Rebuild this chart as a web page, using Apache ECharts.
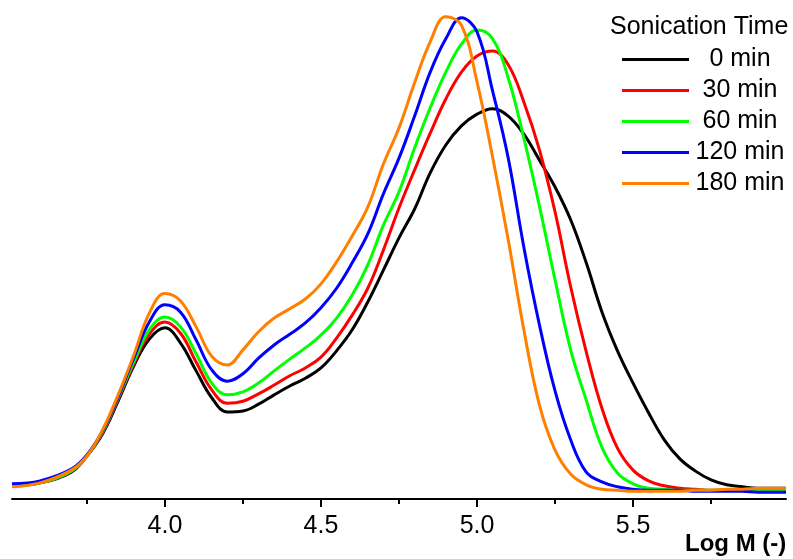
<!DOCTYPE html>
<html>
<head>
<meta charset="utf-8">
<script src="https://cdn.jsdelivr.net/npm/echarts@6/dist/echarts.min.js"></script>
<style>
  html, body { margin: 0; padding: 0; background: #fff; }
  #chart { width: 793px; height: 559px; }
</style>
</head>
<body>
<div id="chart"></div>
<script>
// Log M positions (x values)
const logM = [3.51, 3.6, 3.7, 3.75, 3.8, 3.85, 3.9, 3.95, 4.0, 4.05, 4.1, 4.15, 4.2, 4.25, 4.3, 4.35, 4.4, 4.45, 4.5, 4.55, 4.6, 4.65, 4.7, 4.75, 4.8, 4.85, 4.9, 4.95, 5.0, 5.05, 5.1, 5.15, 5.2, 5.25, 5.3, 5.35, 5.4, 5.45, 5.5, 5.55, 5.6, 5.65, 5.7, 5.75, 5.8, 5.85, 5.9, 5.99];

// Relative distribution values for each sonication time
const min0   = [0.027,0.033,0.055,0.088,0.133,0.200,0.272,0.327,0.350,0.319,0.262,0.207,0.178,0.180,0.194,0.213,0.231,0.247,0.268,0.303,0.346,0.403,0.468,0.534,0.593,0.667,0.724,0.763,0.787,0.798,0.783,0.746,0.693,0.638,0.571,0.483,0.383,0.303,0.237,0.176,0.121,0.082,0.057,0.039,0.029,0.025,0.022,0.022];
const min30  = [0.027,0.033,0.057,0.088,0.135,0.204,0.276,0.337,0.362,0.339,0.280,0.223,0.196,0.200,0.215,0.233,0.252,0.268,0.290,0.329,0.376,0.431,0.509,0.595,0.673,0.748,0.818,0.873,0.906,0.916,0.888,0.812,0.714,0.587,0.434,0.301,0.186,0.104,0.059,0.037,0.027,0.022,0.020,0.018,0.018,0.018,0.018,0.018];
const min60  = [0.027,0.033,0.057,0.088,0.137,0.207,0.280,0.346,0.372,0.352,0.297,0.237,0.213,0.219,0.237,0.262,0.286,0.309,0.335,0.370,0.417,0.479,0.560,0.628,0.718,0.800,0.873,0.930,0.959,0.941,0.861,0.738,0.599,0.448,0.305,0.202,0.106,0.053,0.031,0.022,0.020,0.018,0.018,0.018,0.018,0.018,0.018,0.018];
const min120 = [0.031,0.037,0.061,0.090,0.139,0.209,0.288,0.362,0.397,0.382,0.325,0.264,0.241,0.256,0.288,0.315,0.337,0.360,0.391,0.431,0.483,0.542,0.624,0.697,0.783,0.873,0.941,0.984,0.955,0.834,0.697,0.515,0.356,0.221,0.121,0.055,0.035,0.025,0.020,0.018,0.018,0.018,0.016,0.016,0.016,0.016,0.014,0.014];
const min180 = [0.025,0.033,0.059,0.088,0.141,0.213,0.294,0.380,0.420,0.405,0.352,0.292,0.274,0.305,0.342,0.370,0.389,0.409,0.440,0.485,0.538,0.597,0.685,0.759,0.851,0.935,0.986,0.969,0.853,0.699,0.530,0.346,0.192,0.100,0.051,0.029,0.020,0.018,0.016,0.016,0.016,0.016,0.018,0.018,0.020,0.020,0.022,0.022];

const seriesNames = ['0 min', '30 min', '60 min', '120 min', '180 min'];
const seriesValues = [min0, min30, min60, min120, min180];
const seriesColors = ['#000000', '#ff0000', '#00ff00', '#0000ff', '#ff8000'];

const majorTicks = [4.0, 4.5, 5.0, 5.5];
const minorTicks = [3.75, 4.25, 4.75, 5.25, 5.75];
const legendTitle = 'Sonication Time';
const xAxisTitle = 'Log M (-)';

const FONT = '"Liberation Sans", Arial, sans-serif';

const chart = echarts.init(document.getElementById('chart'), null, { renderer: 'canvas' });

const series = seriesNames.map((name, k) => ({
  name: name,
  type: 'line',
  xAxisIndex: 0,
  yAxisIndex: 0,
  data: logM.map((x, i) => [x, seriesValues[k][i]]),
  smooth: 0.4,
  showSymbol: false,
  symbol: 'none',
  color: seriesColors[k],
  lineStyle: { color: seriesColors[k], width: 3 },
  z: 2 + k
}));

chart.setOption({
  animation: false,
  backgroundColor: '#ffffff',
  title: {
    text: legendTitle,
    left: 605,
    top: 10,
    textStyle: { fontFamily: FONT, fontSize: 25, fontWeight: 'normal', color: '#000' }
  },
  legend: {
    orient: 'vertical',
    left: 617,
    top: 42,
    itemWidth: 67,
    itemHeight: 3,
    itemGap: 6,
    icon: 'rect',
    data: seriesNames,
    formatter: (n) => '{t|' + n + '}',
    textStyle: {
      fontFamily: FONT, fontSize: 25, color: '#000',
      rich: { t: { width: 92, align: 'center', fontFamily: FONT, fontSize: 25, color: '#000', lineHeight: 25 } }
    }
  },
  grid: {
    left: 12, right: 7, top: 10, bottom: 60,
    containLabel: false,
    outerBoundsMode: 'none'
  },
  xAxis: [{
    type: 'value',
    min: 3.51,
    max: 5.99,
    name: xAxisTitle,
    nameLocation: 'end',
    nameGap: -101,
    nameTextStyle: { fontFamily: FONT, fontSize: 24, fontWeight: 'bold', color: '#000', verticalAlign: 'top', padding: [33, 0, 0, 0] },
    axisLine: { show: true, onZero: false, lineStyle: { color: '#000', width: 2 } },
    axisTick: { show: true, customValues: majorTicks, length: 8, inside: false, lineStyle: { color: '#000', width: 2 } },
    axisLabel: {
      show: true, customValues: majorTicks, margin: 15,
      formatter: (v) => v.toFixed(1),
      fontFamily: FONT, fontSize: 25, color: '#000'
    },
    splitLine: { show: false }
  }, {
    type: 'value',
    min: 3.51,
    max: 5.99,
    position: 'bottom',
    axisLine: { show: false },
    axisTick: { show: true, customValues: minorTicks, length: 5, lineStyle: { color: '#000', width: 2 } },
    axisLabel: { show: false },
    splitLine: { show: false }
  }],
  yAxis: {
    type: 'value',
    min: 0,
    max: 1,
    show: false,
    splitLine: { show: false }
  },
  series: series
});
</script>
</body>
</html>
